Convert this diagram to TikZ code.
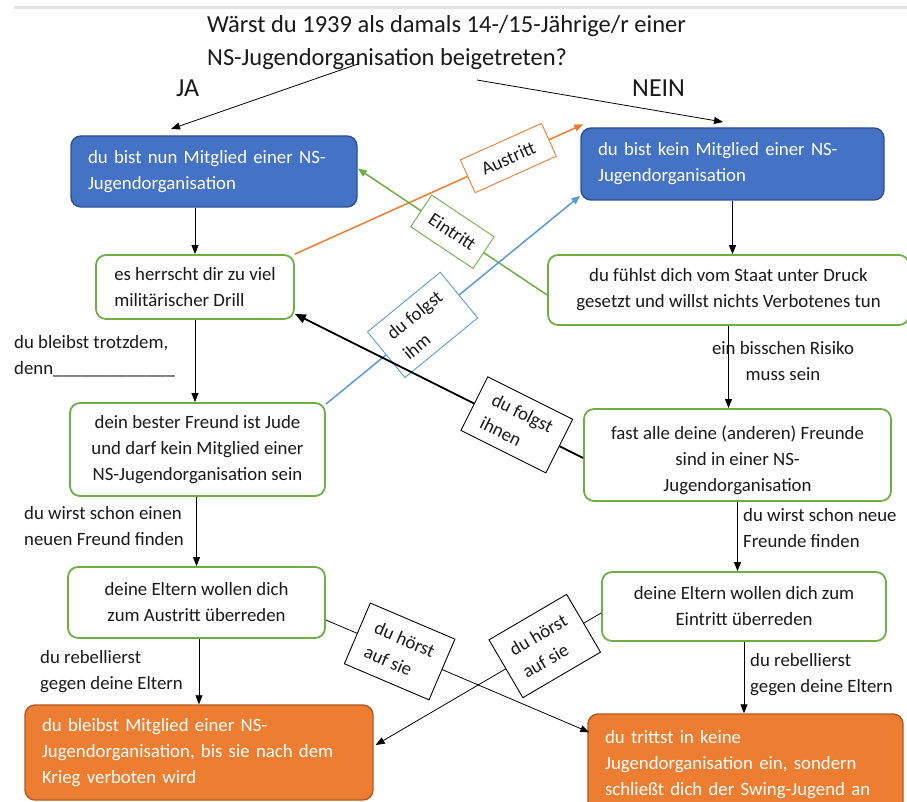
\documentclass[tikz,border=0pt]{standalone}
\usepackage{fontspec}
\setmainfont{Carlito}
\usetikzlibrary{arrows.meta,calc}
\definecolor{bluefill}{HTML}{4472C4}
\definecolor{blueborder}{HTML}{2F528F}
\definecolor{greenline}{HTML}{70AD47}
\definecolor{orangefill}{HTML}{ED7D31}
\definecolor{orangeborder}{HTML}{AE5A21}
\definecolor{lightblue}{HTML}{5B9BD5}
\definecolor{topgray}{HTML}{E3E3E3}
\begin{document}
\begin{tikzpicture}[x=1pt,y=-1pt,
  fs/.style={font=\fontsize{18.8}{26}\selectfont},
  box/.style={fs, rounded corners=10pt, inner ysep=0pt},
  bluebox/.style={box, fill=bluefill, draw=blueborder, line width=1.4pt, text=white, align=left, inner xsep=17pt},
  greenbox/.style={box, fill=white, draw=greenline, line width=1.8pt, align=center, text=black!90},
  orangebox/.style={box, fill=orangefill, draw=orangeborder, line width=1.4pt, text=white, align=left, inner xsep=17pt},
  freelbl/.style={fs, inner sep=0pt, anchor=base west, align=left, text=black!90},
  lbl/.style={fs, draw, fill=white, sloped, align=left, line width=0.9pt, inner xsep=8pt, inner ysep=4pt, text=black!90},
  arr/.style={-{Triangle[length=9pt,width=7pt]}, line width=0.9pt},
  thinarr/.style={-{Triangle[length=9pt,width=7pt]}, line width=0.8pt}
]
\useasboundingbox (0,0) rectangle (907,802);
\clip (0,0) rectangle (907,802);
\fill[white] (0,0) rectangle (907,802);
\draw[topgray, line width=3pt] (14,8) -- (907,8);

% title (base anchor = last line's baseline)
\node[anchor=base west, align=left, inner sep=0pt, font=\fontsize{24.5}{33}\selectfont, text=black!90] (q) at (207,66)
  {Wärst du 1939 als damals 14-/15-Jährige/r einer\\NS-Jugendorganisation beigetreten?};
\node[anchor=base west, inner sep=0pt, font=\fontsize{26}{30}\selectfont, text=black!90] (ja) at (176,97) {JA};
\node[anchor=base west, inner sep=0pt, font=\fontsize{26}{30}\selectfont, text=black!90] (nein) at (632,97) {NEIN};
\coordinate (qa) at (358,64);
\coordinate (qb) at (477,80);
\coordinate (jaend) at (171,129);
\coordinate (neinend) at (723,122);

% boxes
\node[bluebox, text width=252pt, minimum height=71pt] (A) at (214,171.5)
  {du bist nun Mitglied einer NS-\\Jugendorganisation};
\node[bluebox, text width=269pt, minimum height=72pt] (B) at (732.5,164)
  {du bist kein Mitglied einer NS-\\Jugendorganisation};
\node[greenbox, align=left, minimum width=198pt, minimum height=64pt] (C) at (195,287)
  {es herrscht dir zu viel\\militärischer Drill};
\node[greenbox, minimum width=361pt, minimum height=70pt] (D) at (728.5,290)
  {du fühlst dich vom Staat unter Druck\\gesetzt und willst nichts Verbotenes tun};
\node[greenbox, minimum width=255pt, minimum height=93pt] (E) at (197.5,449.5)
  {dein bester Freund ist Jude\\und darf kein Mitglied einer\\NS-Jugendorganisation sein};
\node[greenbox, minimum width=307pt, minimum height=92pt] (F) at (737.5,455)
  {\rule{0pt}{24pt}fast alle deine (anderen) Freunde\\sind in einer NS-\\Jugendorganisation};
\node[greenbox, minimum width=257pt, minimum height=71pt] (G) at (196.5,602.5)
  {deine Eltern wollen dich\\zum Austritt überreden};
\node[greenbox, minimum width=284pt, minimum height=69pt] (H) at (744,606.5)
  {deine Eltern wollen dich zum\\Eintritt überreden};
\node[orangebox, text width=314pt, minimum height=95pt] (I) at (199,752.5)
  {du bleibst Mitglied einer NS-\\Jugendorganisation, bis sie nach dem\\Krieg verboten wird};
\node[orangebox, text width=281pt, minimum height=102pt] (J) at (745.5,765)
  {du trittst in keine\\Jugendorganisation ein, sondern\\schließt dich der Swing-Jugend an};

% title arrows
\draw[thinarr] (qa) -- (jaend);
\draw[thinarr] (qb) -- (neinend);

% vertical arrows
\draw[thinarr] (A.south -| C.north) -- (C.north);
\draw[thinarr] (C.south) -- (C.south |- E.north);
\draw[thinarr] (E.south -| G.north) -- (G.north);
\draw[thinarr] (G.south -| I.north) -- (I.north);
\draw[thinarr] (B.south) -- (B.south |- D.north);
\draw[thinarr] (D.south) -- (D.south |- F.north);
\draw[thinarr] (F.south) -- (F.south |- H.north);
\draw[thinarr] (H.south) -- (H.south |- J.north);

% free labels (base anchor = last line's baseline)
\node[freelbl] (l1) at (14,374) {du bleibst trotzdem,\\denn\_\_\_\_\_\_\_\_\_\_\_\_\_};
\node[freelbl] (l2) at (24,545) {du wirst schon einen\\neuen Freund finden};
\node[freelbl] (l3) at (40,689) {du rebellierst\\gegen deine Eltern};
\node[freelbl, align=center, anchor=base] (l4) at (783,380) {ein bisschen Risiko\\muss sein};
\node[freelbl] (l5) at (743,547) {du wirst schon neue\\Freunde finden};
\node[freelbl] (l6) at (750,692) {du rebellierst\\gegen deine Eltern};

% crossing connectors
\draw[arr, draw=orangefill, fill=orangefill, line width=1.5pt] (C.north east) --
  node[lbl, draw=orangefill, pos=0.74, minimum width=89pt, minimum height=36pt] (la) {Austritt}
  ($(B.north west)+(3,-3)$);
\draw[arr, draw=greenline, fill=greenline, line width=1.5pt] ($(D.west)+(0,5)$) --
  node[lbl, draw=greenline, pos=0.5, minimum width=75pt, minimum height=38pt] (le) {Eintritt}
  ($(A.east)+(0,-3)$);
\draw[arr, draw=lightblue, fill=lightblue, line width=1.5pt] ($(E.north east)+(0,2)$) --
  node[lbl, draw=lightblue, pos=0.38, minimum width=94pt, minimum height=59pt] (lf) {du folgst\\ihm}
  ($(B.south west)+(0,-5)$);
\draw[arr, line width=1.8pt, -{Triangle[length=11pt,width=9pt]}] ($(F.west)+(0,3)$) --
  node[lbl, pos=0.23, minimum width=95pt, minimum height=60pt] (lg) {du folgst\\ihnen}
  ($(C.south east)+(0,-6)$);
\draw[thinarr] ($(G.east)+(0,17.5)$) --
  node[lbl, pos=0.28, minimum width=92pt, minimum height=66pt] (lh) {du hörst\\auf sie}
  ($(J.north west)+(2,19)$);
\draw[thinarr] ($(H.west)+(0,6.5)$) --
  node[lbl, pos=0.25, minimum width=90pt, minimum height=67pt] (li) {du hörst\\auf sie}
  ($(I.east)+(2,-7.5)$);
\end{tikzpicture}
\end{document}
